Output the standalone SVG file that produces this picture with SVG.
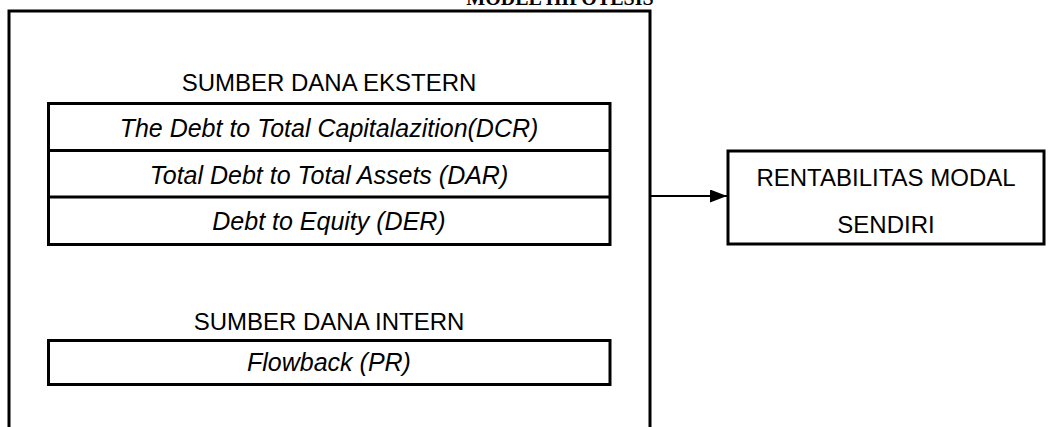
<svg xmlns="http://www.w3.org/2000/svg" width="1055" height="427" viewBox="0 0 1055 427">
<defs>
<style>
.box{fill:#fff;stroke:#000;stroke-width:3}
.frame{fill:none;stroke:#000;stroke-width:3}
.t{font-family:"Liberation Sans",Arial,sans-serif;font-size:24px;fill:#000;text-anchor:middle}
.i{font-style:italic;font-size:25px}
.title{font-family:"Liberation Serif","Times New Roman",serif;font-weight:bold;font-size:20px;text-anchor:middle;fill:#000}
</style>
<marker id="arr" markerWidth="17" markerHeight="13" refX="17" refY="6.5" orient="auto" markerUnits="userSpaceOnUse">
<path d="M0,0 L17,6.5 L0,13 z" fill="#000"/>
</marker>
</defs>
<rect width="1055" height="427" fill="#fff"/>
<text class="title" x="560" y="5">MODEL HIPOTESIS</text>
<g id="frame">
<path class="frame" d="M9,430 V11 H650 V430"/>
</g>
<g id="ekstern">
<text class="t" x="329" y="91">SUMBER DANA EKSTERN</text>
<rect class="box" x="48.5" y="103.5" width="561.5" height="141"/>
<line x1="48.5" y1="150.5" x2="610" y2="150.5" stroke="#000" stroke-width="3"/>
<line x1="48.5" y1="197" x2="610" y2="197" stroke="#000" stroke-width="3"/>
<text class="t i" x="329" y="137">The Debt to Total Capitalazition(DCR)</text>
<text class="t i" x="329" y="184">Total Debt to Total Assets (DAR)</text>
<text class="t i" x="329" y="230">Debt to Equity (DER)</text>
</g>
<g id="intern">
<text class="t" x="329" y="330">SUMBER DANA INTERN</text>
<rect class="box" x="48.5" y="340.5" width="561.5" height="44"/>
<text class="t i" x="329" y="371">Flowback (PR)</text>
</g>
<g id="rms">
<rect class="box" x="728" y="151" width="316" height="93"/>
<text class="t" x="886" y="186">RENTABILITAS MODAL</text>
<text class="t" x="886" y="233">SENDIRI</text>
</g>
<g id="connectors">
<line x1="651" y1="196" x2="727" y2="196" stroke="#000" stroke-width="2" marker-end="url(#arr)"/>
</g>
</svg>
